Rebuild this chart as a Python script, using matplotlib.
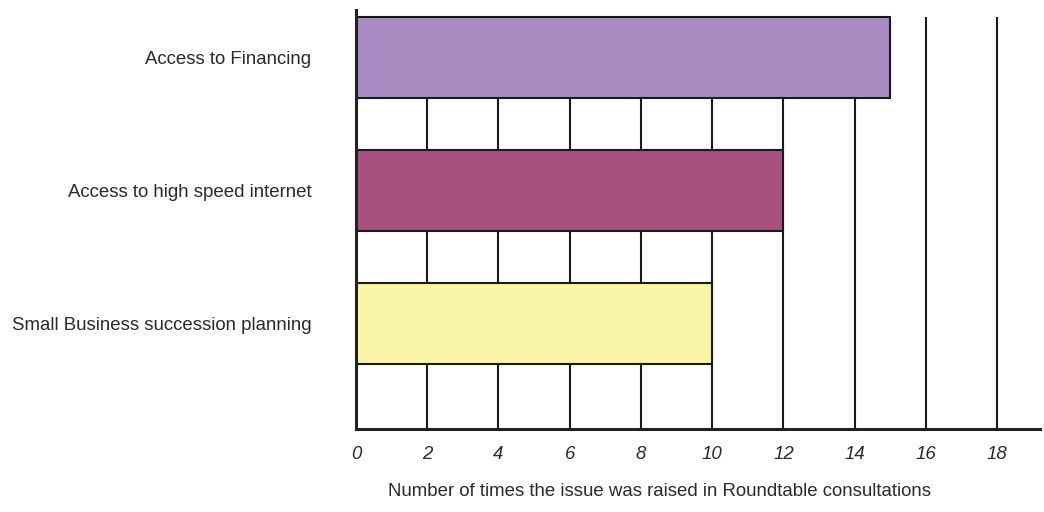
import matplotlib.pyplot as plt

# Roundtable consultation issues and how often each came up
issues = ['Small Business succession planning',
          'Access to high speed internet',
          'Access to Financing']
counts = [10, 12, 15]
bar_colors = ['#FBF5A8', '#A8507E', '#A88BC0']
x_ticks = [0, 2, 4, 6, 8, 10, 12, 14, 16, 18]

plt.rcParams['font.family'] = ['Liberation Sans', 'DejaVu Sans']

fig = plt.figure(figsize=(10.44, 5.12), dpi=100)
ax = fig.add_axes([0.341, 0.162, 0.655, 0.818])

positions = list(range(len(issues)))
bar_height = 0.61
bar_top = positions[-1] + bar_height / 2

# vertical grid lines stop at the top of the highest bar
ax.vlines(x_ticks[1:], -0.8, bar_top, color='#1a1a1a', linewidth=1.5, zorder=1)

ax.barh(positions, counts, height=bar_height, color=bar_colors,
        edgecolor='#1a1a1a', linewidth=1.5, zorder=2)

ax.set_xlim(0, 19.2)
ax.set_ylim(-0.797, 2.353)

ax.set_xticks(x_ticks)
ax.set_xticklabels([str(t) for t in x_ticks], fontstyle='italic', fontsize=13.4, color='#2a2a2a')
ax.set_yticks(positions)
ax.set_yticklabels(issues, fontsize=13.4, color='#2a2a2a')
ax.tick_params(axis='x', length=0, pad=12)
ax.tick_params(axis='y', length=0, pad=32)

for side in ['top', 'right']:
    ax.spines[side].set_visible(False)
for side in ['left', 'bottom']:
    ax.spines[side].set_linewidth(2.2)
    ax.spines[side].set_color('#222222')

fig.text(659 / 1044, 1 - 492 / 512,
         'Number of times the issue was raised in Roundtable consultations',
         ha='center', va='center', fontsize=13.4, color='#2a2a2a')

fig.savefig('out.png', dpi=100)
